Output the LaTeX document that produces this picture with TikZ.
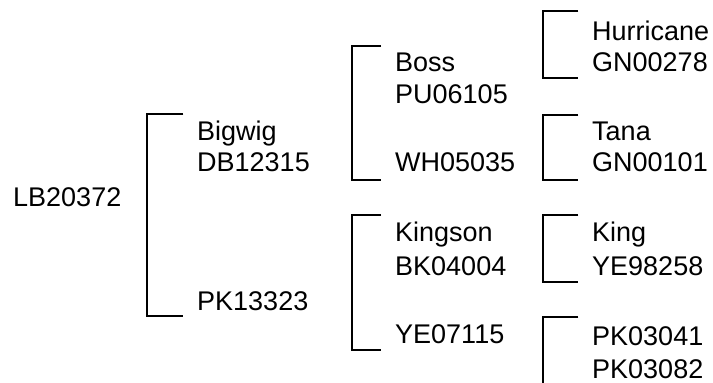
\documentclass[tikz,border=0pt]{standalone}
\usepackage{fontspec}
\setmainfont{Liberation Sans}
\begin{document}
\begin{tikzpicture}[x=1pt,y=-1pt,
  lbl/.style={anchor=base west,inner sep=0pt,font=\fontsize{27}{32}\selectfont},
  brk/.style={line width=1.8pt,line cap=butt,line join=miter}]
\useasboundingbox (0,0) rectangle (713,383);
% labels
\node[lbl] (lb) at (13,206.7) {LB20372};
\node[lbl] (bigwig) at (197,140) {Bigwig};
\node[lbl] (db) at (197,171.7) {DB12315};
\node[lbl] (pk13) at (197,310) {PK13323};
\node[lbl] (boss) at (395,71.7) {Boss};
\node[lbl] (pu) at (395,103.3) {PU06105};
\node[lbl] (wh) at (395,171.7) {WH05035};
\node[lbl] (kingson) at (395,241.7) {Kingson};
\node[lbl] (bk) at (395,275) {BK04004};
\node[lbl] (ye07) at (395,343.3) {YE07115};
\node[lbl] (hurr) at (592,40) {Hurricane};
\node[lbl] (gn278) at (592,71.7) {GN00278};
\node[lbl] (tana) at (592,140) {Tana};
\node[lbl] (gn101) at (592,171.7) {GN00101};
\node[lbl] (king) at (592,241.7) {King};
\node[lbl] (ye98) at (592,275) {YE98258};
\node[lbl] (pk041) at (592,345.5) {PK03041};
\node[lbl] (pk082) at (592,378) {PK03082};
% bracket corners
\coordinate (a1) at (183.3,114); \coordinate (a2) at (147.3,114);
\coordinate (a3) at (147.3,316); \coordinate (a4) at (183.3,316);
\coordinate (b1) at (381,46); \coordinate (b2) at (352,46);
\coordinate (b3) at (352,180); \coordinate (b4) at (381,180);
\coordinate (c1) at (578.3,10.7); \coordinate (c2) at (543.3,10.7);
\coordinate (c3) at (543.3,78.3); \coordinate (c4) at (578.3,78.3);
\coordinate (d1) at (578.3,115); \coordinate (d2) at (543.3,115);
\coordinate (d3) at (543.3,180); \coordinate (d4) at (578.3,180);
\coordinate (e1) at (381,215); \coordinate (e2) at (352,215);
\coordinate (e3) at (352,350); \coordinate (e4) at (381,350);
\coordinate (f1) at (578.3,215); \coordinate (f2) at (543.3,215);
\coordinate (f3) at (543.3,282); \coordinate (f4) at (578.3,282);
\coordinate (g1) at (578.3,317); \coordinate (g2) at (543.3,317);
\coordinate (g3) at (543.3,390);
% brackets
\draw[brk] (a1) -- (a2) -- (a3) -- (a4);
\draw[brk] (b1) -- (b2) -- (b3) -- (b4);
\draw[brk] (c1) -- (c2) -- (c3) -- (c4);
\draw[brk] (d1) -- (d2) -- (d3) -- (d4);
\draw[brk] (e1) -- (e2) -- (e3) -- (e4);
\draw[brk] (f1) -- (f2) -- (f3) -- (f4);
\draw[brk] (g1) -- (g2) -- (g3);
\end{tikzpicture}
\end{document}
